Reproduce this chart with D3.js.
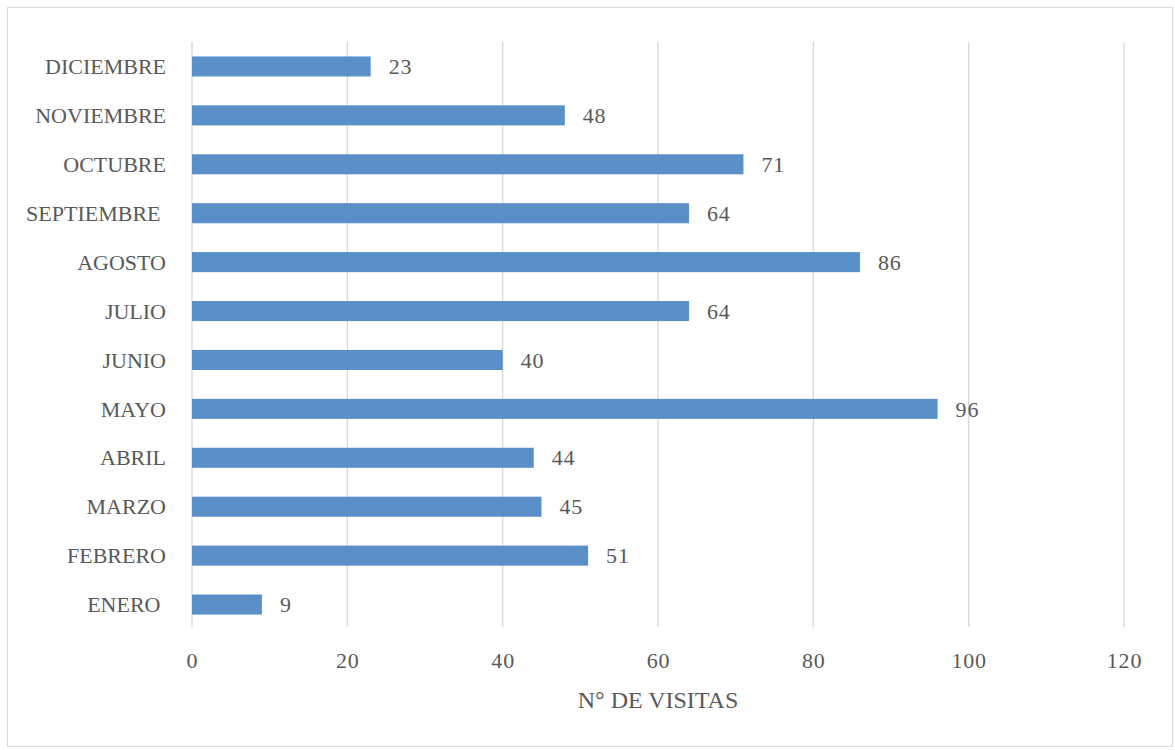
<!DOCTYPE html>
<html>
<head>
<meta charset="utf-8">
<script src="https://cdn.jsdelivr.net/npm/d3@7"></script>
<style>
  html, body { margin: 0; padding: 0; background: #fff; }
  svg text { font-family: "Liberation Serif", "DejaVu Serif", serif; fill: #595959; white-space: pre; }
</style>
</head>
<body>
<svg id="chart" width="1175" height="750"></svg>
<script>
const categories = ["ENERO ", "FEBRERO", "MARZO", "ABRIL", "MAYO", "JUNIO", "JULIO", "AGOSTO", "SEPTIEMBRE ", "OCTUBRE", "NOVIEMBRE", "DICIEMBRE"];
const visitas = [9, 51, 45, 44, 96, 40, 64, 86, 64, 71, 48, 23];
const xTicks = [0, 20, 40, 60, 80, 100, 120];
const axisTitle = "N° DE VISITAS";

const data = categories.map((c, i) => ({ cat: c, val: visitas[i] }));

const svg = d3.select("#chart");
svg.append("rect")
  .attr("x", 7.5).attr("y", 7.5)
  .attr("width", 1165).attr("height", 739)
  .attr("fill", "#fff").attr("stroke", "#d9d9d9").attr("stroke-width", 1);

const plot = { left: 192, right: 1124, top: 42, bottom: 629 };

const x = d3.scaleLinear().domain([0, 120]).range([plot.left, plot.right]);
const y = d3.scaleBand()
  .domain(categories.slice().reverse())
  .range([plot.top, plot.bottom])
  .paddingInner(0.59).paddingOuter(0.295);

// gridlines
svg.append("g")
  .selectAll("line")
  .data(xTicks)
  .join("line")
  .attr("x1", d => x(d)).attr("x2", d => x(d))
  .attr("y1", plot.top).attr("y2", plot.bottom - 2)
  .attr("stroke", "#d9d9d9").attr("stroke-width", 1.3);

// x axis labels
const xAxis = d3.axisBottom(x).tickValues(xTicks).tickSize(0).tickPadding(0);
const gx = svg.append("g").attr("transform", `translate(0,${plot.bottom + 39})`).call(xAxis);
gx.select(".domain").remove();
gx.selectAll("text")
  .attr("font-size", 22).attr("fill", "#595959")
  .attr("letter-spacing", 0.8)
  .style("font-family", '"Liberation Serif", serif')
  .attr("dy", "0");

// y axis labels
const yAxis = d3.axisLeft(y).tickSize(0).tickPadding(0);
const gy = svg.append("g").attr("transform", `translate(${plot.left - 26},0)`).call(yAxis);
gy.select(".domain").remove();
gy.selectAll("text")
  .attr("font-size", 22).attr("fill", "#595959")
  .style("font-family", '"Liberation Serif", serif')
  .attr("dy", "0.35em");

// bars
svg.append("g")
  .selectAll("rect")
  .data(data)
  .join("rect")
  .attr("x", x(0))
  .attr("y", d => y(d.cat))
  .attr("width", d => x(d.val) - x(0))
  .attr("height", y.bandwidth())
  .attr("fill", "#5b8fc8");

// value labels
svg.append("g")
  .selectAll("text")
  .data(data)
  .join("text")
  .attr("x", d => x(d.val) + 18)
  .attr("y", d => y(d.cat) + y.bandwidth() / 2)
  .attr("dy", "0.35em")
  .attr("font-size", 22)
  .attr("letter-spacing", 0.8)
  .text(d => d.val);

// axis title
svg.append("text")
  .attr("x", (plot.left + plot.right) / 2)
  .attr("y", 700)
  .attr("dy", "0.35em")
  .attr("text-anchor", "middle")
  .attr("font-size", 24)
  .text(axisTitle);
</script>
</body>
</html>
